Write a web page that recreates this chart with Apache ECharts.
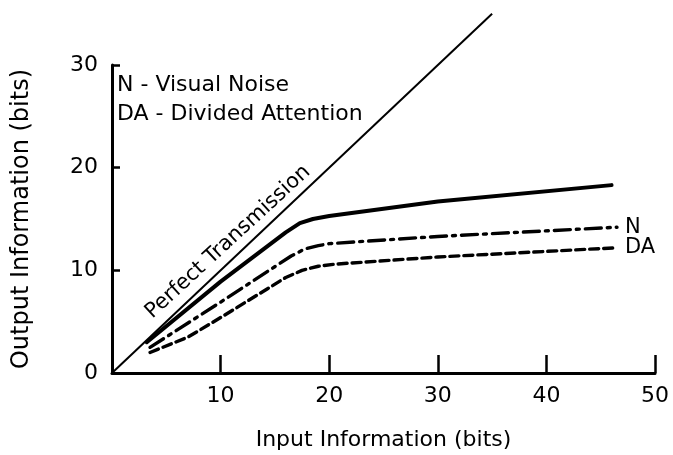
<!DOCTYPE html>
<html>
<head>
<meta charset="utf-8">
<script src="https://cdn.jsdelivr.net/npm/echarts@6/dist/echarts.min.js"></script>
<style>
  html, body { margin: 0; padding: 0; background: #fff; }
  #chart { width: 673px; height: 455px; }
</style>
</head>
<body>
<div id="chart"></div>
<script>
// values (x = input bits, y = output bits)
const perfect_line = [[0, 0], [35, 35]];
const baseline_curve = [[3.2, 3.0], [10, 8.9], [16, 13.7], [17.3, 14.6], [18.5, 15.0], [20, 15.3], [30, 16.7], [46, 18.3]];
const noise_curve = [[3.5, 2.5], [10, 6.9], [16.5, 11.4], [17.8, 12.1], [19, 12.4], [20, 12.6], [30, 13.3], [46.5, 14.2]];
const attention_curve = [[3.5, 2.0], [7, 3.5], [10, 5.4], [16, 9.3], [17.5, 10.0], [19, 10.4], [20.5, 10.6], [30, 11.3], [46.5, 12.2]];
const legend_lines = ['N - Visual Noise', 'DA - Divided Attention'];
const end_labels = ['N', 'DA'];

const FONT = '"DejaVu Sans", "Liberation Sans", sans-serif';

const chart = echarts.init(document.getElementById('chart'));

function curve(data, width, dash, label) {
    const s = {
        type: 'line',
        data: data,
        showSymbol: false,
        symbol: 'none',
        smooth: false,
        lineStyle: { color: '#000', width: width, type: dash, cap: 'round', join: 'round' },
        silent: true
    };
    if (label) {
        s.endLabel = {
            show: true,
            formatter: label,
            color: '#000',
            fontFamily: FONT,
            fontSize: 21,
            distance: 8
        };
    }
    return s;
}

const option = {
    backgroundColor: '#fff',
    animation: false,
    grid: { left: 112, right: 18, top: 65, bottom: 82, outerBoundsMode: 'none', containLabel: false },
    xAxis: {
        type: 'value',
        min: 0, max: 50, interval: 10,
        name: 'Input Information (bits)',
        nameLocation: 'middle',
        nameGap: 56,
        nameTextStyle: { color: '#000', fontFamily: FONT, fontSize: 22 },
        axisLine: { lineStyle: { color: '#000', width: 3 } },
        axisTick: { inside: true, length: 18, lineStyle: { color: '#000', width: 2.5 } },
        axisLabel: { color: '#000', fontFamily: FONT, fontSize: 22, margin: 12, showMinLabel: false },
        splitLine: { show: false }
    },
    yAxis: {
        type: 'value',
        min: 0, max: 30, interval: 10,
        name: 'Output Information (bits)',
        nameLocation: 'middle',
        nameGap: 78,
        nameTextStyle: { color: '#000', fontFamily: FONT, fontSize: 24 },
        axisLine: { lineStyle: { color: '#000', width: 3 } },
        axisTick: { inside: true, length: 8, lineStyle: { color: '#000', width: 2.5 } },
        axisLabel: { color: '#000', fontFamily: FONT, fontSize: 22, margin: 14 },
        splitLine: { show: false }
    },
    series: [
        {
            type: 'line',
            data: perfect_line,
            showSymbol: false,
            symbol: 'none',
            clip: false,
            lineStyle: { color: '#000', width: 2 },
            silent: true
        },
        curve(baseline_curve, 4, 'solid'),
        curve(noise_curve, 3.4, [16, 6, 3, 6], end_labels[0]),
        curve(attention_curve, 3.4, [9, 5], end_labels[1])
    ],
    graphic: [
        {
            type: 'text', x: 117, y: 85,
            style: { text: legend_lines[0], fill: '#000', font: '22px ' + FONT, textVerticalAlign: 'middle' }
        },
        {
            type: 'text', x: 117, y: 114,
            style: { text: legend_lines[1], fill: '#000', font: '22px ' + FONT, textVerticalAlign: 'middle' }
        },
        {
            type: 'text', x: 228, y: 242, rotation: 0.744,
            style: { text: 'Perfect Transmission', fill: '#000', font: '21px ' + FONT, textAlign: 'center', textVerticalAlign: 'middle' }
        }
    ]
};

chart.setOption(option);
</script>
</body>
</html>
